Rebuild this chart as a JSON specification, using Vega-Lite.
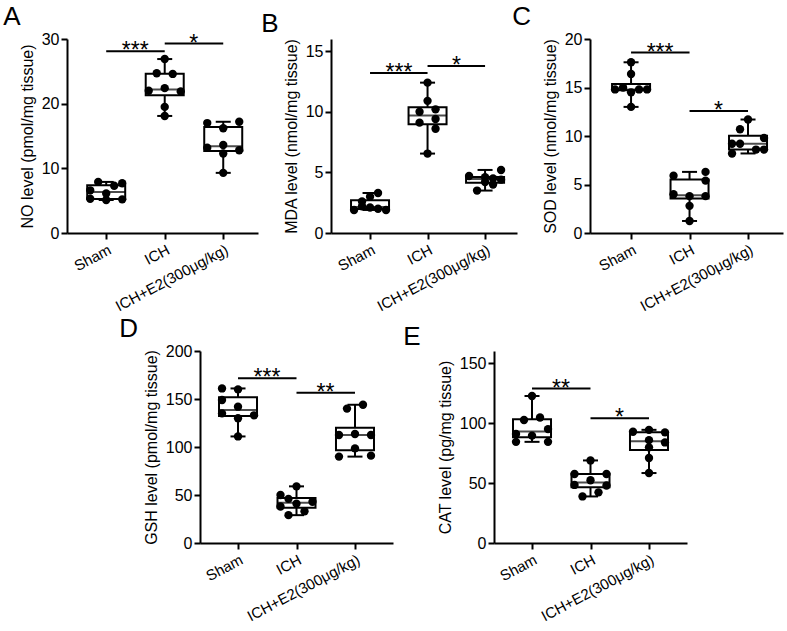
{
  "$schema": "https://vega.github.io/schema/vega-lite/v6.json",
  "padding": {"left": 3, "top": 4, "right": 3, "bottom": 0},
  "background": "white",
  "datasets": {
    "pts": [
      {"panel": "A", "group": "Sham", "value": 7.9, "lane": -1},
      {"panel": "A", "group": "Sham", "value": 7.7, "lane": 2},
      {"panel": "A", "group": "Sham", "value": 7.3, "lane": 1},
      {"panel": "A", "group": "Sham", "value": 6.6, "lane": -2},
      {"panel": "A", "group": "Sham", "value": 6.1, "lane": 0},
      {"panel": "A", "group": "Sham", "value": 5.3, "lane": -2},
      {"panel": "A", "group": "Sham", "value": 5.1, "lane": 0},
      {"panel": "A", "group": "Sham", "value": 5.2, "lane": 2},
      {"panel": "A", "group": "ICH", "value": 26.9, "lane": 0},
      {"panel": "A", "group": "ICH", "value": 24.7, "lane": -1},
      {"panel": "A", "group": "ICH", "value": 24.6, "lane": 1},
      {"panel": "A", "group": "ICH", "value": 22.0, "lane": -2},
      {"panel": "A", "group": "ICH", "value": 22.4, "lane": 0},
      {"panel": "A", "group": "ICH", "value": 21.9, "lane": 2},
      {"panel": "A", "group": "ICH", "value": 19.5, "lane": 0},
      {"panel": "A", "group": "ICH", "value": 18.1, "lane": 0},
      {"panel": "A", "group": "ICH+E2(300μg/kg)", "value": 17.0, "lane": -2},
      {"panel": "A", "group": "ICH+E2(300μg/kg)", "value": 17.2, "lane": 2},
      {"panel": "A", "group": "ICH+E2(300μg/kg)", "value": 16.2, "lane": 0},
      {"panel": "A", "group": "ICH+E2(300μg/kg)", "value": 13.2, "lane": -2},
      {"panel": "A", "group": "ICH+E2(300μg/kg)", "value": 13.6, "lane": 0},
      {"panel": "A", "group": "ICH+E2(300μg/kg)", "value": 12.8, "lane": 2},
      {"panel": "A", "group": "ICH+E2(300μg/kg)", "value": 12.3, "lane": 0},
      {"panel": "A", "group": "ICH+E2(300μg/kg)", "value": 9.3, "lane": 0},

      {"panel": "B", "group": "Sham", "value": 3.3, "lane": 1},
      {"panel": "B", "group": "Sham", "value": 3.0, "lane": 0},
      {"panel": "B", "group": "Sham", "value": 2.6, "lane": -1},
      {"panel": "B", "group": "Sham", "value": 2.2, "lane": -1},
      {"panel": "B", "group": "Sham", "value": 2.1, "lane": 0},
      {"panel": "B", "group": "Sham", "value": 2.0, "lane": 1},
      {"panel": "B", "group": "Sham", "value": 1.9, "lane": -2},
      {"panel": "B", "group": "Sham", "value": 1.9, "lane": 2},
      {"panel": "B", "group": "ICH", "value": 12.4, "lane": 0},
      {"panel": "B", "group": "ICH", "value": 10.9, "lane": 0},
      {"panel": "B", "group": "ICH", "value": 10.2, "lane": 1},
      {"panel": "B", "group": "ICH", "value": 10.0, "lane": -1},
      {"panel": "B", "group": "ICH", "value": 9.4, "lane": 1},
      {"panel": "B", "group": "ICH", "value": 9.1, "lane": -1},
      {"panel": "B", "group": "ICH", "value": 8.6, "lane": 1},
      {"panel": "B", "group": "ICH", "value": 6.55, "lane": 0},
      {"panel": "B", "group": "ICH+E2(300μg/kg)", "value": 5.2, "lane": 2},
      {"panel": "B", "group": "ICH+E2(300μg/kg)", "value": 4.7, "lane": -2},
      {"panel": "B", "group": "ICH+E2(300μg/kg)", "value": 4.6, "lane": 0},
      {"panel": "B", "group": "ICH+E2(300μg/kg)", "value": 4.5, "lane": 1},
      {"panel": "B", "group": "ICH+E2(300μg/kg)", "value": 4.4, "lane": 2},
      {"panel": "B", "group": "ICH+E2(300μg/kg)", "value": 4.2, "lane": 0},
      {"panel": "B", "group": "ICH+E2(300μg/kg)", "value": 4.0, "lane": 1},
      {"panel": "B", "group": "ICH+E2(300μg/kg)", "value": 3.5, "lane": -1},

      {"panel": "C", "group": "Sham", "value": 17.6, "lane": 0},
      {"panel": "C", "group": "Sham", "value": 16.4, "lane": 0},
      {"panel": "C", "group": "Sham", "value": 15.0, "lane": -1},
      {"panel": "C", "group": "Sham", "value": 14.8, "lane": -2},
      {"panel": "C", "group": "Sham", "value": 14.8, "lane": 1},
      {"panel": "C", "group": "Sham", "value": 14.8, "lane": 2},
      {"panel": "C", "group": "Sham", "value": 14.5, "lane": 0},
      {"panel": "C", "group": "Sham", "value": 13.0, "lane": 0},
      {"panel": "C", "group": "ICH", "value": 6.3, "lane": 2},
      {"panel": "C", "group": "ICH", "value": 5.9, "lane": -2},
      {"panel": "C", "group": "ICH", "value": 5.4, "lane": 2},
      {"panel": "C", "group": "ICH", "value": 4.0, "lane": -2},
      {"panel": "C", "group": "ICH", "value": 3.8, "lane": 0},
      {"panel": "C", "group": "ICH", "value": 3.8, "lane": 2},
      {"panel": "C", "group": "ICH", "value": 2.8, "lane": 0},
      {"panel": "C", "group": "ICH", "value": 1.24, "lane": 0},
      {"panel": "C", "group": "ICH+E2(300μg/kg)", "value": 11.7, "lane": 0},
      {"panel": "C", "group": "ICH+E2(300μg/kg)", "value": 10.7, "lane": -1},
      {"panel": "C", "group": "ICH+E2(300μg/kg)", "value": 9.8, "lane": 2},
      {"panel": "C", "group": "ICH+E2(300μg/kg)", "value": 9.2, "lane": -2},
      {"panel": "C", "group": "ICH+E2(300μg/kg)", "value": 9.2, "lane": -1},
      {"panel": "C", "group": "ICH+E2(300μg/kg)", "value": 8.2, "lane": -2},
      {"panel": "C", "group": "ICH+E2(300μg/kg)", "value": 8.6, "lane": 1},
      {"panel": "C", "group": "ICH+E2(300μg/kg)", "value": 8.6, "lane": 2},

      {"panel": "D", "group": "Sham", "value": 161, "lane": -2},
      {"panel": "D", "group": "Sham", "value": 160, "lane": 0},
      {"panel": "D", "group": "Sham", "value": 149, "lane": -2},
      {"panel": "D", "group": "Sham", "value": 142, "lane": 0},
      {"panel": "D", "group": "Sham", "value": 135, "lane": -2},
      {"panel": "D", "group": "Sham", "value": 133, "lane": 2},
      {"panel": "D", "group": "Sham", "value": 130, "lane": 0},
      {"panel": "D", "group": "Sham", "value": 111, "lane": 0},
      {"panel": "D", "group": "ICH", "value": 59, "lane": 0},
      {"panel": "D", "group": "ICH", "value": 50, "lane": -2},
      {"panel": "D", "group": "ICH", "value": 46, "lane": -1},
      {"panel": "D", "group": "ICH", "value": 43, "lane": 2},
      {"panel": "D", "group": "ICH", "value": 41, "lane": 0},
      {"panel": "D", "group": "ICH", "value": 38, "lane": -2},
      {"panel": "D", "group": "ICH", "value": 33, "lane": 1},
      {"panel": "D", "group": "ICH", "value": 29, "lane": -1},
      {"panel": "D", "group": "ICH+E2(300μg/kg)", "value": 144, "lane": 1},
      {"panel": "D", "group": "ICH+E2(300μg/kg)", "value": 140, "lane": -1},
      {"panel": "D", "group": "ICH+E2(300μg/kg)", "value": 112.5, "lane": -2},
      {"panel": "D", "group": "ICH+E2(300μg/kg)", "value": 113.5, "lane": 0},
      {"panel": "D", "group": "ICH+E2(300μg/kg)", "value": 112.5, "lane": 2},
      {"panel": "D", "group": "ICH+E2(300μg/kg)", "value": 98.6, "lane": 0},
      {"panel": "D", "group": "ICH+E2(300μg/kg)", "value": 90, "lane": -2},
      {"panel": "D", "group": "ICH+E2(300μg/kg)", "value": 91, "lane": 2},

      {"panel": "E", "group": "Sham", "value": 122.5, "lane": 0},
      {"panel": "E", "group": "Sham", "value": 104.6, "lane": 1},
      {"panel": "E", "group": "Sham", "value": 102.5, "lane": -1},
      {"panel": "E", "group": "Sham", "value": 94.9, "lane": 2},
      {"panel": "E", "group": "Sham", "value": 90.8, "lane": -2},
      {"panel": "E", "group": "Sham", "value": 89.5, "lane": 0},
      {"panel": "E", "group": "Sham", "value": 84.3, "lane": -2},
      {"panel": "E", "group": "Sham", "value": 84.3, "lane": 2},
      {"panel": "E", "group": "ICH", "value": 68.8, "lane": 0},
      {"panel": "E", "group": "ICH", "value": 57.5, "lane": -2},
      {"panel": "E", "group": "ICH", "value": 57.5, "lane": 2},
      {"panel": "E", "group": "ICH", "value": 52.3, "lane": 0},
      {"panel": "E", "group": "ICH", "value": 48.4, "lane": -2},
      {"panel": "E", "group": "ICH", "value": 47.9, "lane": 2},
      {"panel": "E", "group": "ICH", "value": 42.2, "lane": 1},
      {"panel": "E", "group": "ICH", "value": 38.8, "lane": -1},
      {"panel": "E", "group": "ICH+E2(300μg/kg)", "value": 94.3, "lane": 0},
      {"panel": "E", "group": "ICH+E2(300μg/kg)", "value": 92.7, "lane": -2},
      {"panel": "E", "group": "ICH+E2(300μg/kg)", "value": 92.2, "lane": 2},
      {"panel": "E", "group": "ICH+E2(300μg/kg)", "value": 85.7, "lane": 0},
      {"panel": "E", "group": "ICH+E2(300μg/kg)", "value": 83.8, "lane": 2},
      {"panel": "E", "group": "ICH+E2(300μg/kg)", "value": 79.7, "lane": 0},
      {"panel": "E", "group": "ICH+E2(300μg/kg)", "value": 70.8, "lane": 0},
      {"panel": "E", "group": "ICH+E2(300μg/kg)", "value": 58.3, "lane": 0}
    ],
    "br": [
      {"panel": "A", "group": "Sham", "to": "ICH", "value": 28.1, "stars": "***"},
      {"panel": "A", "group": "ICH", "to": "ICH+E2(300μg/kg)", "value": 29.3, "stars": "*"},
      {"panel": "B", "group": "Sham", "to": "ICH", "value": 13.2, "stars": "***"},
      {"panel": "B", "group": "ICH", "to": "ICH+E2(300μg/kg)", "value": 13.77, "stars": "*"},
      {"panel": "C", "group": "Sham", "to": "ICH", "value": 18.6, "stars": "***"},
      {"panel": "C", "group": "ICH", "to": "ICH+E2(300μg/kg)", "value": 12.58, "stars": "*"},
      {"panel": "D", "group": "Sham", "to": "ICH", "value": 171.5, "stars": "***"},
      {"panel": "D", "group": "ICH", "to": "ICH+E2(300μg/kg)", "value": 156.6, "stars": "**"},
      {"panel": "E", "group": "Sham", "to": "ICH", "value": 128.7, "stars": "**"},
      {"panel": "E", "group": "ICH", "to": "ICH+E2(300μg/kg)", "value": 103.9, "stars": "*"}
    ]
  },
  "vconcat": [
    {
      "bounds": "flush",
      "spacing": 73,
      "hconcat": [
        {
          "width": 191, "height": 194,
          "title": {"text": "A", "dx": -16},
          "data": {"name": "pts"},
          "transform": [{"filter": "datum.panel === 'A'"}],
          "layer": [
            {"mark": {"type": "boxplot", "extent": "min-max", "size": 38, "box": {"fill": "white", "stroke": "black", "strokeWidth": 2}, "median": {"color": "black", "thickness": 2}, "rule": {"color": "black", "strokeWidth": 2}, "ticks": {"color": "black", "thickness": 2, "size": 15}},
             "encoding": {"x": {"field": "group", "type": "nominal", "title": null, "scale": {"type": "point", "domain": ["Sham", "ICH", "ICH+E2(300μg/kg)"], "padding": 0.632, "align": 0.53}},
                          "y": {"field": "value", "type": "quantitative", "scale": {"domain": [0, 30]}, "axis": {"values": [0, 10, 20, 30], "title": "NO level (pmol/mg tissue)"}}}},
            {"mark": {"type": "circle", "size": 70, "color": "black", "opacity": 1},
             "encoding": {"x": {"field": "group", "type": "nominal", "title": null}, "xOffset": {"field": "lane", "type": "quantitative", "scale": {"domain": [-2, 2], "range": [-16, 16]}}, "y": {"field": "value", "type": "quantitative"}}},
            {"data": {"name": "br"}, "transform": [{"filter": "datum.panel === 'A'"}], "mark": {"type": "rule", "color": "black", "strokeWidth": 2},
             "encoding": {"x": {"field": "group", "type": "nominal", "title": null}, "x2": {"field": "to"}, "y": {"field": "value", "type": "quantitative"}}},
            {"data": {"name": "br"}, "transform": [{"filter": "datum.panel === 'A'"}], "mark": {"type": "text", "fontSize": 23, "dx": 29, "dy": 7, "baseline": "alphabetic", "color": "black"},
             "encoding": {"x": {"field": "group", "type": "nominal", "title": null}, "y": {"field": "value", "type": "quantitative"}, "text": {"field": "stars"}}}
          ]
        },
        {
          "width": 186, "height": 194,
          "title": {"text": "B", "dx": -22},
          "data": {"name": "pts"},
          "transform": [{"filter": "datum.panel === 'B'"}],
          "layer": [
            {"mark": {"type": "boxplot", "extent": "min-max", "size": 38, "box": {"fill": "white", "stroke": "black", "strokeWidth": 2}, "median": {"color": "black", "thickness": 2}, "rule": {"color": "black", "strokeWidth": 2}, "ticks": {"color": "black", "thickness": 2, "size": 15}},
             "encoding": {"x": {"field": "group", "type": "nominal", "title": null, "scale": {"type": "point", "domain": ["Sham", "ICH", "ICH+E2(300μg/kg)"], "padding": 0.617, "align": 0.55}},
                          "y": {"field": "value", "type": "quantitative", "scale": {"domain": [0, 15]}, "axis": {"values": [0, 5, 10, 15], "title": "MDA level (nmol/mg tissue)"}}}},
            {"mark": {"type": "circle", "size": 70, "color": "black", "opacity": 1},
             "encoding": {"x": {"field": "group", "type": "nominal", "title": null}, "xOffset": {"field": "lane", "type": "quantitative", "scale": {"domain": [-2, 2], "range": [-16, 16]}}, "y": {"field": "value", "type": "quantitative"}}},
            {"data": {"name": "br"}, "transform": [{"filter": "datum.panel === 'B'"}], "mark": {"type": "rule", "color": "black", "strokeWidth": 2},
             "encoding": {"x": {"field": "group", "type": "nominal", "title": null}, "x2": {"field": "to"}, "y": {"field": "value", "type": "quantitative"}}},
            {"data": {"name": "br"}, "transform": [{"filter": "datum.panel === 'B'"}], "mark": {"type": "text", "fontSize": 23, "dx": 29, "dy": 7, "baseline": "alphabetic", "color": "black"},
             "encoding": {"x": {"field": "group", "type": "nominal", "title": null}, "y": {"field": "value", "type": "quantitative"}, "text": {"field": "stars"}}}
          ]
        },
        {
          "width": 193, "height": 194,
          "title": {"text": "C", "dx": -30},
          "data": {"name": "pts"},
          "transform": [{"filter": "datum.panel === 'C'"}],
          "layer": [
            {"mark": {"type": "boxplot", "extent": "min-max", "size": 38, "box": {"fill": "white", "stroke": "black", "strokeWidth": 2}, "median": {"color": "black", "thickness": 2}, "rule": {"color": "black", "strokeWidth": 2}, "ticks": {"color": "black", "thickness": 2, "size": 15}},
             "encoding": {"x": {"field": "group", "type": "nominal", "title": null, "scale": {"type": "point", "domain": ["Sham", "ICH", "ICH+E2(300μg/kg)"], "padding": 0.65, "align": 0.54}},
                          "y": {"field": "value", "type": "quantitative", "scale": {"domain": [0, 20]}, "axis": {"values": [0, 5, 10, 15, 20], "title": "SOD level (nmol/mg tissue)"}}}},
            {"mark": {"type": "circle", "size": 70, "color": "black", "opacity": 1},
             "encoding": {"x": {"field": "group", "type": "nominal", "title": null}, "xOffset": {"field": "lane", "type": "quantitative", "scale": {"domain": [-2, 2], "range": [-16, 16]}}, "y": {"field": "value", "type": "quantitative"}}},
            {"data": {"name": "br"}, "transform": [{"filter": "datum.panel === 'C'"}], "mark": {"type": "rule", "color": "black", "strokeWidth": 2},
             "encoding": {"x": {"field": "group", "type": "nominal", "title": null}, "x2": {"field": "to"}, "y": {"field": "value", "type": "quantitative"}}},
            {"data": {"name": "br"}, "transform": [{"filter": "datum.panel === 'C'"}], "mark": {"type": "text", "fontSize": 23, "dx": 29, "dy": 7, "baseline": "alphabetic", "color": "black"},
             "encoding": {"x": {"field": "group", "type": "nominal", "title": null}, "y": {"field": "value", "type": "quantitative"}, "text": {"field": "stars"}}}
          ]
        }
      ]
    },
    {
      "bounds": "flush",
      "spacing": 101,
      "hconcat": [
        {
          "width": 32, "height": 192,
          "data": {"values": []},
          "mark": {"type": "point", "opacity": 0}
        },
        {
          "width": 193, "height": 192,
          "title": {"text": "D", "dx": -24},
          "data": {"name": "pts"},
          "transform": [{"filter": "datum.panel === 'D'"}],
          "layer": [
            {"mark": {"type": "boxplot", "extent": "min-max", "size": 38, "box": {"fill": "white", "stroke": "black", "strokeWidth": 2}, "median": {"color": "black", "thickness": 2}, "rule": {"color": "black", "strokeWidth": 2}, "ticks": {"color": "black", "thickness": 2, "size": 15}},
             "encoding": {"x": {"field": "group", "type": "nominal", "title": null, "scale": {"type": "point", "domain": ["Sham", "ICH", "ICH+E2(300μg/kg)"], "padding": 0.65}},
                          "y": {"field": "value", "type": "quantitative", "scale": {"domain": [0, 200]}, "axis": {"values": [0, 50, 100, 150, 200], "title": "GSH level (pmol/mg tissue)"}}}},
            {"mark": {"type": "circle", "size": 70, "color": "black", "opacity": 1},
             "encoding": {"x": {"field": "group", "type": "nominal", "title": null}, "xOffset": {"field": "lane", "type": "quantitative", "scale": {"domain": [-2, 2], "range": [-16, 16]}}, "y": {"field": "value", "type": "quantitative"}}},
            {"data": {"name": "br"}, "transform": [{"filter": "datum.panel === 'D'"}], "mark": {"type": "rule", "color": "black", "strokeWidth": 2},
             "encoding": {"x": {"field": "group", "type": "nominal", "title": null}, "x2": {"field": "to"}, "y": {"field": "value", "type": "quantitative"}}},
            {"data": {"name": "br"}, "transform": [{"filter": "datum.panel === 'D'"}], "mark": {"type": "text", "fontSize": 23, "dx": 29, "dy": 7, "baseline": "alphabetic", "color": "black"},
             "encoding": {"x": {"field": "group", "type": "nominal", "title": null}, "y": {"field": "value", "type": "quantitative"}, "text": {"field": "stars"}}}
          ]
        },
        {
          "width": 193, "height": 192,
          "title": {"text": "E", "dx": -34},
          "data": {"name": "pts"},
          "transform": [{"filter": "datum.panel === 'E'"}],
          "layer": [
            {"mark": {"type": "boxplot", "extent": "min-max", "size": 38, "box": {"fill": "white", "stroke": "black", "strokeWidth": 2}, "median": {"color": "black", "thickness": 2}, "rule": {"color": "black", "strokeWidth": 2}, "ticks": {"color": "black", "thickness": 2, "size": 15}},
             "encoding": {"x": {"field": "group", "type": "nominal", "title": null, "scale": {"type": "point", "domain": ["Sham", "ICH", "ICH+E2(300μg/kg)"], "padding": 0.65}},
                          "y": {"field": "value", "type": "quantitative", "scale": {"domain": [0, 150]}, "axis": {"values": [0, 50, 100, 150], "title": "CAT level (pg/mg tissue)"}}}},
            {"mark": {"type": "circle", "size": 70, "color": "black", "opacity": 1},
             "encoding": {"x": {"field": "group", "type": "nominal", "title": null}, "xOffset": {"field": "lane", "type": "quantitative", "scale": {"domain": [-2, 2], "range": [-16, 16]}}, "y": {"field": "value", "type": "quantitative"}}},
            {"data": {"name": "br"}, "transform": [{"filter": "datum.panel === 'E'"}], "mark": {"type": "rule", "color": "black", "strokeWidth": 2},
             "encoding": {"x": {"field": "group", "type": "nominal", "title": null}, "x2": {"field": "to"}, "y": {"field": "value", "type": "quantitative"}}},
            {"data": {"name": "br"}, "transform": [{"filter": "datum.panel === 'E'"}], "mark": {"type": "text", "fontSize": 23, "dx": 29, "dy": 7, "baseline": "alphabetic", "color": "black"},
             "encoding": {"x": {"field": "group", "type": "nominal", "title": null}, "y": {"field": "value", "type": "quantitative"}, "text": {"field": "stars"}}}
          ]
        }
      ]
    }
  ],
  "spacing": 2,
  "config": {
    "font": "Liberation Sans",
    "view": {"stroke": null},
    "axis": {"grid": false, "domainColor": "black", "domainWidth": 2, "tickColor": "black", "tickWidth": 2, "tickSize": 6, "labelColor": "black", "labelFontSize": 16, "labelPadding": 2, "titleFontSize": 16, "titleFontWeight": "normal", "titleColor": "black", "titlePadding": 6, "labelFont": "Liberation Sans", "titleFont": "Liberation Sans"},
    "axisX": {"labelAngle": -28, "labelFontSize": 15, "labelPadding": 3},
    "title": {"fontSize": 26, "fontWeight": "normal", "anchor": "start", "frame": "bounds", "offset": 1, "color": "black", "font": "Liberation Sans"}
  }
}
